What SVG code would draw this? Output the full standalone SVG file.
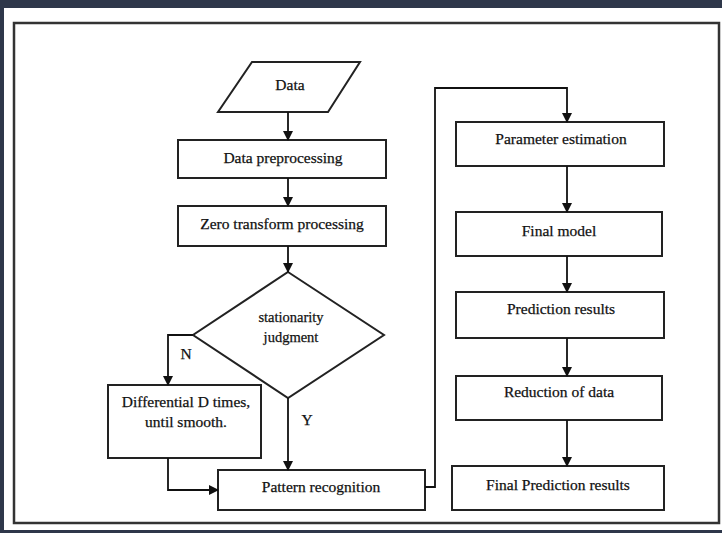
<svg xmlns="http://www.w3.org/2000/svg" width="722" height="533" viewBox="0 0 722 533">
<defs>
<marker id="ah" markerWidth="10" markerHeight="10" refX="9" refY="5" orient="auto" markerUnits="userSpaceOnUse">
<path d="M0,0 L10,5 L0,10 Z" fill="#111"/>
</marker>
<style>
.box{fill:#fff;stroke:#222;stroke-width:2}
.t{font-family:"Liberation Serif","Times New Roman",serif;font-size:15.5px;fill:#111;text-anchor:middle;stroke:#111;stroke-width:0.25}
.s{font-size:14.5px}
.c{fill:none;stroke:#111;stroke-width:1.8}
</style>
</defs>
<rect x="0" y="0" width="722" height="533" fill="#2e374a"/>
<rect x="4" y="8" width="718" height="522" fill="#fff"/>
<rect x="14" y="23" width="705" height="500" fill="#fff" stroke="#333" stroke-width="2.5"/>
<g id="data"><polygon class="box" points="252,62 360,62 328,112 218,112"/><text class="t" x="290" y="90">Data</text></g>
<g id="preprocessing"><rect class="box" x="178" y="140" width="208" height="38"/><text class="t" x="283" y="163">Data preprocessing</text></g>
<g id="zero"><rect class="box" x="178" y="206" width="208" height="40"/><text class="t" x="282" y="229">Zero transform processing</text></g>
<g id="stationarity"><polygon class="box" points="288,272 384,335 288,398 193,335"/><text class="t s" x="291" y="322">stationarity</text><text class="t s" x="291" y="342">judgment</text></g>
<g id="differential"><rect class="box" x="108" y="385" width="153" height="73"/><text class="t" x="186" y="407">Differential D times,</text><text class="t" x="186" y="427">until smooth.</text></g>
<g id="pattern"><rect class="box" x="218" y="470" width="207" height="40"/><text class="t" x="321" y="492">Pattern recognition</text></g>
<g id="param"><rect class="box" x="456" y="122" width="208" height="44"/><text class="t" x="561" y="144">Parameter estimation</text></g>
<g id="final"><rect class="box" x="456" y="212" width="206" height="44"/><text class="t" x="559" y="236">Final model</text></g>
<g id="pred"><rect class="box" x="456" y="292" width="208" height="46"/><text class="t" x="561" y="314">Prediction results</text></g>
<g id="reduction"><rect class="box" x="456" y="376" width="206" height="44"/><text class="t" x="559" y="397">Reduction of data</text></g>
<g id="finalpred"><rect class="box" x="452" y="466" width="212" height="44"/><text class="t" x="558" y="490">Final Prediction results</text></g>
<g id="connectors">
<line class="c" x1="288" y1="112" x2="288" y2="140" marker-end="url(#ah)"/>
<line class="c" x1="288" y1="178" x2="288" y2="206" marker-end="url(#ah)"/>
<line class="c" x1="288" y1="246" x2="288" y2="272" marker-end="url(#ah)"/>
<polyline class="c" points="193,335 168,335 168,385" marker-end="url(#ah)"/>
<line class="c" x1="288" y1="398" x2="288" y2="470" marker-end="url(#ah)"/>
<polyline class="c" points="168,458 168,490 218,490" marker-end="url(#ah)"/>
<polyline class="c" points="425,487 435,487 435,88 567,88 567,122" marker-end="url(#ah)"/>
<line class="c" x1="567" y1="166" x2="567" y2="212" marker-end="url(#ah)"/>
<line class="c" x1="567" y1="256" x2="567" y2="292" marker-end="url(#ah)"/>
<line class="c" x1="567" y1="338" x2="567" y2="376" marker-end="url(#ah)"/>
<line class="c" x1="567" y1="420" x2="567" y2="466" marker-end="url(#ah)"/>
<text class="t" x="186" y="359">N</text>
<text class="t" x="307" y="425">Y</text>
</g>
</svg>
